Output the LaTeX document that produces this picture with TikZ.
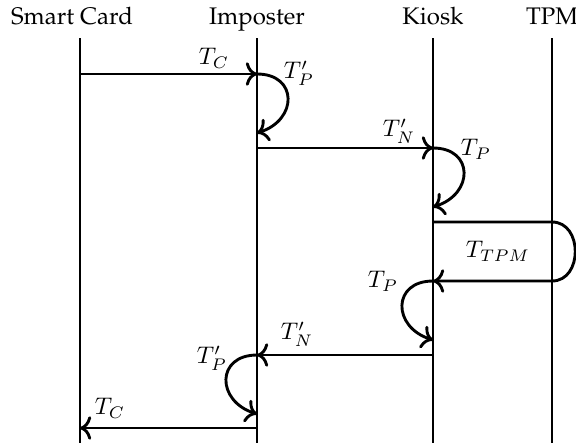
\documentclass[tikz,border=0pt]{standalone}
\usepackage[OT1]{fontenc}
\usetikzlibrary{arrows.meta}
\begin{document}
\begin{tikzpicture}[x={(0.4167pt,0)},y={(0,-0.4167pt)},
  line width=1.2pt,
  head/.style={inner sep=0pt,anchor=base,font=\fontencoding{OT1}\fontfamily{ppl}\fontsize{10}{12}\selectfont},
  lbl/.style={inner sep=0pt,anchor=center,font=\fontsize{10}{12}\selectfont},
  msg/.style={-{Computer Modern Rightarrow[scale=1.1]}}]
\useasboundingbox (0,0) rectangle (576,443);
% headers
\node[head] (hs) at (72,24) {Smart Card};
\node[head] (hi) at (257,24) {Imposter};
\node[head] (hk) at (433,24) {Kiosk};
\node[head] (ht) at (552,24) {TPM};
% lifelines
\coordinate (s0) at (80,38);  \coordinate (s1) at (80,443);
\coordinate (i0) at (257,38); \coordinate (i1) at (257,443);
\coordinate (k0) at (433,38); \coordinate (k1) at (433,443);
\coordinate (t0) at (552,38); \coordinate (t1) at (552,443);
\draw (s0) -- (s1);
\draw (i0) -- (i1);
\draw (k0) -- (k1);
\draw (t0) -- (t1);
% events
\coordinate (sa) at (80,74);   \coordinate (ia) at (257,74);
\coordinate (ib) at (257,133);
\coordinate (ic) at (257,148); \coordinate (ka) at (433,148);
\coordinate (kb) at (433,207);
\coordinate (kc) at (433,222); \coordinate (ta) at (552,222);
\coordinate (tb) at (552,281); \coordinate (kd) at (433,281);
\coordinate (ke) at (433,340);
\coordinate (kf) at (433,355); \coordinate (id) at (257,355);
\coordinate (ie) at (257,414);
\coordinate (if) at (257,428); \coordinate (sb) at (80,428);
% messages
\draw[msg] (sa) -- (ia);
\draw[msg] (ia) .. controls +(41,0) and +(41,-13) .. (ib);
\draw[msg] (ic) -- (ka);
\draw[msg] (ka) .. controls +(41,0) and +(41,-13) .. (kb);
\draw[msg] (kc) -- (ta) .. controls +(31,0) and +(31,0) .. (tb) -- (kd);
\draw[msg] (kd) .. controls +(-41,0) and +(-41,-13) .. (ke);
\draw[msg] (kf) -- (id);
\draw[msg] (id) .. controls +(-41,0) and +(-41,-13) .. (ie);
\draw[msg] (if) -- (sb);
% labels
\node[lbl] (l1) at (214,58) {$T_C$};
\node[lbl] (l2) at (299,73) {$T'_P$};
\node[lbl] (l3) at (399,131) {$T'_N$};
\node[lbl] (l4) at (476,149) {$T_P$};
\node[lbl] (l5) at (498,251) {$T_{TPM}$};
\node[lbl] (l6) at (383,281) {$T_P$};
\node[lbl] (l7) at (297,334) {$T'_N$};
\node[lbl] (l8) at (212,358) {$T'_P$};
\node[lbl] (l9) at (110,408) {$T_C$};
\end{tikzpicture}
\end{document}
